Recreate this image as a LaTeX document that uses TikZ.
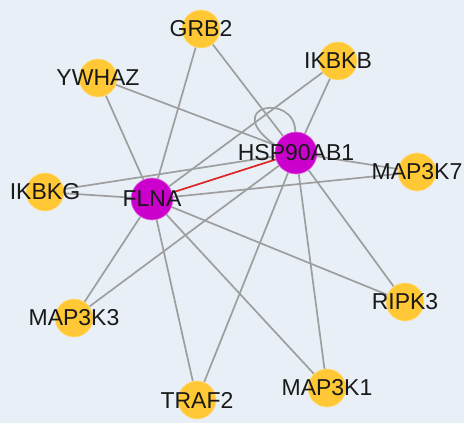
\documentclass[tikz,border=0pt]{standalone}
\usepackage{fontspec}
\setmainfont{Liberation Sans}
\usepackage{xcolor}
\definecolor{bgc}{RGB}{232, 239, 246}
\definecolor{gen}{RGB}{255, 200, 52}
\definecolor{hub}{RGB}{204, 0, 204}
\definecolor{lnk}{RGB}{158, 158, 158}
\definecolor{key}{RGB}{222, 36, 36}
\pgfdeclarelayer{back}
\pgfdeclarelayer{edges}
\pgfsetlayers{back,edges,main}

\begin{document}
\begin{tikzpicture}[x=1pt, y=-1pt,
    gene/.style={circle, fill=gen, draw=gen!60!white, line width=0.6pt, minimum size=38pt, inner sep=0pt},
    hubgene/.style={circle, fill=hub, draw=hub!60!white, line width=0.6pt, minimum size=42pt, inner sep=0pt},
    lab/.style={font=\fontsize{23}{26}\selectfont, text=black!90, inner sep=0pt},
    link/.style={draw=lnk, line width=1.7pt},
    keylink/.style={draw=key, line width=1.7pt}]
  \begin{pgfonlayer}{back}
    \fill[bgc] (0, 0) rectangle (464, 423);
  \end{pgfonlayer}
  \useasboundingbox (0, 0) rectangle (464, 423);

  \node[gene, label={[lab]center:GRB2}] (grb2) at (201, 29) {};
  \node[gene, label={[lab]center:IKBKB}] (ikbkb) at (338, 61) {};
  \node[gene, label={[lab]center:YWHAZ}] (ywhaz) at (98, 78) {};
  \node[gene, label={[lab]center:MAP3K7}] (map3k7) at (417, 172) {};
  \node[gene, label={[lab]center:IKBKG}] (ikbkg) at (45, 192) {};
  \node[gene, label={[lab]center:MAP3K3}] (map3k3) at (74, 318) {};
  \node[gene, label={[lab]center:RIPK3}] (ripk3) at (405, 302) {};
  \node[gene, label={[lab]center:TRAF2}] (traf2) at (197, 400) {};
  \node[gene, label={[lab]center:MAP3K1}] (map3k1) at (327, 388) {};
  \node[hubgene, label={[lab]center:HSP90AB1}] (hsp) at (296, 153) {};
  \node[hubgene, label={[lab]center:FLNA}] (flna) at (152, 199) {};

  \begin{pgfonlayer}{edges}
    \draw[link] (flna) -- (ywhaz);
    \draw[link] (flna) -- (grb2);
    \draw[link] (flna) -- (ikbkb);
    \draw[link] (flna) -- (ikbkg);
    \draw[link] (flna) -- (map3k7);
    \draw[link] (flna) -- (map3k3);
    \draw[link] (flna) -- (traf2);
    \draw[link] (flna) -- (map3k1);
    \draw[link] (flna) -- (ripk3);
    \draw[link] (hsp) -- (ywhaz);
    \draw[link] (hsp) -- (grb2);
    \draw[link] (hsp) -- (ikbkb);
    \draw[link] (hsp) -- (map3k7);
    \draw[link] (hsp) -- (ikbkg);
    \draw[link] (hsp) -- (map3k3);
    \draw[link] (hsp) -- (traf2);
    \draw[link] (hsp) -- (map3k1);
    \draw[link] (hsp) -- (ripk3);
    \draw[link] (hsp.160) .. controls +(145:70pt) and +(90:40pt) .. (hsp.92);
    \draw[keylink] (flna) -- (hsp);
  \end{pgfonlayer}
\end{tikzpicture}
\end{document}
